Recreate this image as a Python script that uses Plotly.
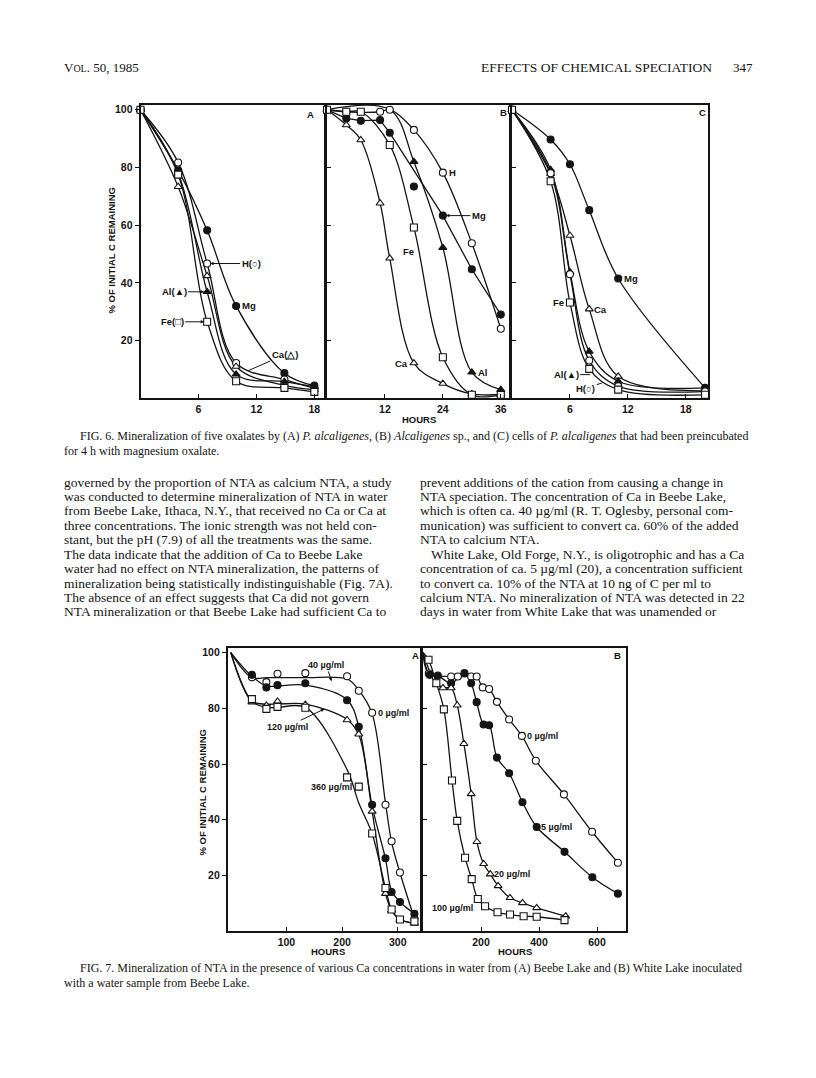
import plotly.graph_objects as go

W, H = 816, 1078          # browser page size
M = 8                     # default body margin of the html page
FW, FH = W - 2 * M, H - 2 * M

# ---------------- FIG. 6 data (hours, % of initial C remaining) ----------------
f6a_t = [0, 3.9, 6.9, 9.9, 14.9, 18]
f6a_H = [100, 81.7, 46.7, 12.2, 6.5, 3.5]
f6a_Mg = [100, 79.0, 58.2, 32.0, 8.7, 4.4]
f6a_Ca = [100, 73.3, 42.4, 11.0, 4.5, 3.0]
f6a_Al = [100, 78.0, 36.9, 8.3, 5.8, 4.0]
f6a_Fe = [100, 77.5, 26.5, 5.9, 3.6, 2.2]

f6b_H_t = [0, 4, 11, 13, 18, 24, 30, 36]
f6b_H = [100, 99.3, 99.3, 100, 93.0, 78.2, 53.7, 24.1]
f6b_Mg_t = [0, 4, 7, 11, 13, 18, 24, 30, 36]
f6b_Mg = [100, 97.0, 96.2, 96.4, 92.0, 73.4, 63.3, 44.7, 29.0]
f6b_Mgfit_t = [0, 4, 7, 11, 13, 24, 30, 36]
f6b_Mgfit = [100, 97.0, 96.2, 96.4, 92.0, 63.3, 44.7, 29.0]
f6b_Ca_t = [0, 4, 7, 11, 13, 18, 24, 30, 36]
f6b_Ca = [100, 94.7, 89.5, 67.6, 48.5, 12.2, 5.1, 1.5, 1.3]
f6b_Fe_t = [0, 4, 7, 13, 18, 24, 30, 36]
f6b_Fe = [100, 99.3, 99.3, 87.8, 59.2, 14.2, 1.2, 1.2]
f6b_Al_t = [0, 13, 18, 24, 30, 36]
f6b_Al = [100, 100, 82.0, 52.2, 9.0, 3.0]
f6b_Al_top_t = [4, 13]          # Al points plotted above the frame (100 %)
f6b_Al_top = [104.2, 104.2]

f6c_t = [0, 4, 6, 8, 11, 20]
f6c_Mg = [100, 89.7, 81.1, 65.2, 41.5, 3.6]
f6c_Ca = [100, 77.8, 56.4, 30.9, 7.6, 2.6]
f6c_Al = [100, 79.2, 43.8, 16.2, 5.9, 3.6]
f6c_H = [100, 78.0, 43.0, 13.1, 4.2, 2.4]
f6c_Fe = [100, 75.2, 33.2, 10.2, 3.0, 1.2]

# ---------------- FIG. 7 data ----------------
f7a_t = [0, 38, 64, 84, 134, 209, 230, 254, 278, 289, 304, 330]
f7a_0 = [100, 91.1, 89.4, 92.4, 92.6, 91.5, 86.3, 78.4, 45.4, 32.3, 21.1, 4.5]
f7a_40 = [100, 92.0, 87.5, 88.3, 89.0, 82.9, 73.4, 45.4, 26.2, 14.1, 10.5, 6.3]
f7a_120 = [100, 82.2, 81.0, 82.5, 81.3, 75.8, 70.7, 43.0, 13.5, 7.5, 4.2, 2.8]
f7a_360 = [100, 83.3, 79.8, 80.5, 80.2, 55.2, 51.9, 35.1, 15.5, 7.8, 4.2, 3.5]
# drawn (fitted) curves, read at the same times
f7a_0_fit = [100, 91.0, 91.0, 91.0, 91.0, 90.5, 86.5, 78.0, 46.0, 32.0, 21.0, 4.5]
f7a_40_fit = [100, 91.5, 88.0, 88.0, 88.3, 83.0, 73.5, 45.0, 26.0, 14.5, 10.5, 6.3]
f7a_120_fit = [100, 82.5, 81.5, 81.5, 81.5, 76.0, 70.5, 43.0, 13.5, 7.5, 4.2, 2.8]
f7a_360_fit = [100, 82.5, 80.3, 80.3, 80.3, 58.0, 46.0, 35.0, 15.5, 7.8, 4.2, 3.0]

f7b_0_t = [0, 20, 97, 120, 166, 185, 206, 228, 255, 297, 341, 389, 486, 583, 672]
f7b_0 = [100, 92.5, 91.4, 91.4, 91.4, 91.4, 87.5, 86.9, 82.3, 76.0, 70.1, 61.2, 49.1, 35.7, 24.6]
f7b_5_t = [0, 23, 51, 97, 143, 166, 185, 209, 228, 255, 297, 343, 392, 488, 584, 672]
f7b_5 = [100, 92.0, 91.7, 89.0, 92.6, 89.0, 82.2, 74.2, 73.9, 62.3, 56.7, 46.3, 37.4, 28.5, 19.4, 13.5]
f7b_20_t = [0, 46, 69, 97, 118, 141, 166, 186, 209, 232, 259, 300, 343, 392, 492]
f7b_20 = [100, 88.5, 87.3, 87.3, 81.1, 67.3, 49.3, 32.1, 24.2, 20.5, 16.3, 12.0, 10.2, 8.4, 5.4]
f7b_100_t = [0, 19, 46, 72, 100, 118, 145, 168, 189, 214, 257, 300, 347, 392, 488]
f7b_100 = [100, 97.4, 89.0, 79.6, 54.1, 39.6, 26.4, 18.7, 11.6, 9.0, 6.8, 6.0, 5.4, 5.2, 4.0]

# ---------------- page texts ----------------
left_col = [
    "governed by the proportion of NTA as calcium NTA, a study",
    "was conducted to determine mineralization of NTA in water",
    "from Beebe Lake, Ithaca, N.Y., that received no Ca or Ca at",
    "three concentrations. The ionic strength was not held con-",
    "stant, but the pH (7.9) of all the treatments was the same.",
    "The data indicate that the addition of Ca to Beebe Lake",
    "water had no effect on NTA mineralization, the patterns of",
    "mineralization being statistically indistinguishable (Fig. 7A).",
    "The absence of an effect suggests that Ca did not govern",
    "NTA mineralization or that Beebe Lake had sufficient Ca to",
]
right_col = [
    "prevent additions of the cation from causing a change in",
    "NTA speciation. The concentration of Ca in Beebe Lake,",
    "which is often ca. 40 µg/ml (R. T. Oglesby, personal com-",
    "munication) was sufficient to convert ca. 60% of the added",
    "NTA to calcium NTA.",
    "White Lake, Old Forge, N.Y., is oligotrophic and has a Ca",
    "concentration of ca. 5 µg/ml (20), a concentration sufficient",
    "to convert ca. 10% of the NTA at 10 ng of C per ml to",
    "calcium NTA. No mineralization of NTA was detected in 22",
    "days in water from White Lake that was unamended or",
]
cap6 = ["FIG. 6. Mineralization of five oxalates by (A) <i>P. alcaligenes</i>, (B) <i>Alcaligenes</i> sp., and (C) cells of <i>P. alcaligenes</i> that had been preincubated",
        "for 4 h with magnesium oxalate."]
cap7 = ["FIG. 7. Mineralization of NTA in the presence of various Ca concentrations in water from (A) Beebe Lake and (B) White Lake inoculated",
        "with a water sample from Beebe Lake."]

# ---------------- figure ----------------
fig = go.Figure()
INK = '#141414'
SANS = 'Liberation Sans'
SERIF = 'Liberation Serif'

def PX(x):  # page x pixel -> paper
    return (x - M) / FW

def PY(y):  # page y pixel -> paper
    return 1 - (y - M) / FH

def ax_id(i):
    return ('x' if i == 1 else 'x%d' % i), ('y' if i == 1 else 'y%d' % i)

line_traces, marker_traces = [], []

def series(i, t, v, sym, fill, lt=None, lv=None, shape='spline', first=0):
    xa, ya = ax_id(i)
    lt = t if lt is None else lt
    lv = v if lv is None else lv
    line_traces.append(go.Scatter(x=lt, y=lv, xaxis=xa, yaxis=ya, mode='lines',
                                  line=dict(color=INK, width=1.3, shape=shape, smoothing=1.0),
                                  showlegend=False, hoverinfo='skip'))
    marker_traces.append(go.Scatter(x=t[first:], y=v[first:], xaxis=xa, yaxis=ya, mode='markers',
                                    marker=dict(symbol=sym, size=7, color=fill,
                                                line=dict(color=INK, width=1.1)),
                                    cliponaxis=False, showlegend=False, hoverinfo='skip'))

OPEN, FULL = 'white', INK
# Fig 6A
series(1, f6a_t, f6a_Mg, 'circle', FULL)
series(1, f6a_t, f6a_H, 'circle', OPEN)
series(1, f6a_t, f6a_Ca, 'triangle-up', OPEN)
series(1, f6a_t, f6a_Al, 'triangle-up', FULL)
series(1, f6a_t, f6a_Fe, 'square', OPEN)
# Fig 6B
series(2, f6b_H_t, f6b_H, 'circle', OPEN)
series(2, f6b_Mg_t, f6b_Mg, 'circle', FULL, lt=f6b_Mgfit_t, lv=f6b_Mgfit, shape='linear')
series(2, f6b_Ca_t, f6b_Ca, 'triangle-up', OPEN)
series(2, f6b_Fe_t, f6b_Fe, 'square', OPEN)
series(2, f6b_Al_t, f6b_Al, 'triangle-up', FULL, first=2)
marker_traces.append(go.Scatter(x=f6b_Al_top_t, y=f6b_Al_top, xaxis='x2', yaxis='y2', mode='markers',
                                marker=dict(symbol='triangle-up', size=7, color=INK),
                                cliponaxis=False, showlegend=False, hoverinfo='skip'))
# Fig 6C
series(3, f6c_t, f6c_Mg, 'circle', FULL)
series(3, f6c_t, f6c_Ca, 'triangle-up', OPEN)
series(3, f6c_t, f6c_Al, 'triangle-up', FULL)
series(3, f6c_t, f6c_H, 'circle', OPEN)
series(3, f6c_t, f6c_Fe, 'square', OPEN)
# Fig 7A
series(4, f7a_t, f7a_0, 'circle', OPEN, lv=f7a_0_fit, first=1)
series(4, f7a_t, f7a_40, 'circle', FULL, lv=f7a_40_fit, first=1)
series(4, f7a_t, f7a_120, 'triangle-up', OPEN, lv=f7a_120_fit, first=1)
series(4, f7a_t, f7a_360, 'square', OPEN, lv=f7a_360_fit, first=1)
# Fig 7B
series(5, f7b_0_t, f7b_0, 'circle', OPEN, first=1)
series(5, f7b_5_t, f7b_5, 'circle', FULL, first=1)
series(5, f7b_20_t, f7b_20, 'triangle-up', OPEN, first=1)
series(5, f7b_100_t, f7b_100, 'square', OPEN, first=1)

for tr in line_traces + marker_traces:
    fig.add_trace(tr)

tickfont = dict(family=SANS, size=10.5, color=INK, weight='bold')

def set_axes(i, xpx, ypx, xr, yr, xt, yt, ylab):
    xa = dict(domain=[PX(xpx[0]), PX(xpx[1])], range=xr, tickvals=xt, ticks='inside', ticklen=4,
              tickwidth=1.3, tickcolor=INK, showline=True, linewidth=1.7, linecolor=INK, mirror=True,
              showgrid=False, zeroline=False, tickfont=tickfont, anchor=ax_id(i)[1], fixedrange=True)
    ya = dict(domain=[PY(ypx[1]), PY(ypx[0])], range=yr, tickvals=yt,
              ticks='outside' if ylab else 'inside', ticklen=4, tickwidth=1.3, tickcolor=INK,
              showline=True, linewidth=1.7, linecolor=INK, mirror=True, showgrid=False,
              zeroline=False, tickfont=tickfont, anchor=ax_id(i)[0], fixedrange=True,
              showticklabels=ylab)
    fig.layout['xaxis' if i == 1 else 'xaxis%d' % i] = xa
    fig.layout['yaxis' if i == 1 else 'yaxis%d' % i] = ya

Y6 = (103, 397)
set_axes(1, (140.5, 324), Y6, [0, 19.0], [0, 101.7], [6, 12, 18], [20, 40, 60, 80, 100], True)
set_axes(2, (327, 509), Y6, [0, 37.7], [0, 101.7], [12, 24, 36], [20, 40, 60, 80], False)
set_axes(3, (512, 708), Y6, [0, 20.3], [0, 101.7], [6, 12, 18], [20, 40, 60, 80], False)
Y7 = (647, 931)
set_axes(4, (227.7, 420), Y7, [-5.5, 340], [0, 101.7], [100, 200, 300], [20, 40, 60, 80, 100], True)
set_axes(5, (423, 626), Y7, [0, 700], [0, 101.7], [200, 400, 600], [20, 40, 60, 80], False)

ann = []

def ptxt(s, x, y, size, anchor='left', family=SERIF, weight='normal', angle=0):
    ann.append(dict(text=s, x=PX(x), y=PY(y), xref='paper', yref='paper', xanchor=anchor,
                    yanchor='middle', showarrow=False, textangle=angle,
                    font=dict(family=family, size=size, color=INK, weight=weight)))

def dtxt(i, s, x, y, anchor='left', xshift=0, yshift=0, size=9.5, ax=None, ay=None, head=2):
    xa, ya = ax_id(i)
    d = dict(text=s, x=x, y=y, xref=xa, yref=ya, showarrow=ax is not None,
             font=dict(family=SANS, size=size, color=INK, weight='bold'))
    if ax is None:
        d.update(xanchor=anchor, yanchor='middle', xshift=xshift, yshift=yshift)
    else:
        d.update(ax=ax, ay=ay, arrowhead=head, arrowsize=0.7, arrowwidth=1.0, arrowcolor=INK,
                 standoff=3, startstandoff=0)
    ann.append(d)

# header
ptxt("V<span style='font-size:10px'>OL</span>. 50, 1985", 62, 66, 13)
ptxt("EFFECTS OF CHEMICAL SPECIATION", 714, 66, 13.5, anchor='right')
ptxt("347", 755, 66, 13, anchor='right')

# fig 6 axis titles and panel letters
ptxt("% OF INITIAL C REMAINING", 112, 249, 9.5, anchor='center', family=SANS, weight='bold', angle=-90)
ptxt("HOURS", 419, 418, 9.5, anchor='center', family=SANS, weight='bold')
ptxt("A", 310, 113, 9.5, anchor='center', family=SANS, weight='bold')
ptxt("B", 503, 111, 9.5, anchor='center', family=SANS, weight='bold')
ptxt("C", 702, 111, 9.5, anchor='center', family=SANS, weight='bold')

# fig 6A labels
dtxt(1, "H(○)", 6.9, 46.7, ax=44, ay=0)
dtxt(1, "Al(▲)", 6.9, 36.9, ax=-33, ay=0)
dtxt(1, "Fe(□)", 6.9, 26.5, ax=-35, ay=0)
dtxt(1, "Mg", 9.9, 32.0, xshift=4)
dtxt(1, "Ca(△)", 10.9, 9.2, ax=39, ay=-17, head=0)
# fig 6B labels
dtxt(2, "H", 24, 78.2, xshift=4)
dtxt(2, "Mg", 24, 63.3, ax=36, ay=0)
dtxt(2, "Fe", 16.9, 51.0, anchor='center')
dtxt(2, "Ca", 18, 12.2, anchor='right', xshift=-4)
dtxt(2, "Al", 30, 9.0, xshift=4)
# fig 6C labels
dtxt(3, "Mg", 11, 41.5, xshift=4)
dtxt(3, "Fe", 6, 33.2, anchor='right', xshift=-4)
dtxt(3, "Ca", 8, 30.9, xshift=3)
dtxt(3, "Al(▲)", 8.4, 8.2, ax=-27, ay=0, head=0)
dtxt(3, "H(○)", 9.6, 5.6, ax=-19, ay=6, head=0)

# fig 7 axis titles
ptxt("% OF INITIAL C REMAINING", 203, 792, 9.5, anchor='center', family=SANS, weight='bold', angle=-90)
ptxt("HOURS", 328, 951, 9.5, anchor='center', family=SANS, weight='bold')
ptxt("HOURS", 515, 951, 9.5, anchor='center', family=SANS, weight='bold')
ptxt("A", 415, 655, 9.5, anchor='center', family=SANS, weight='bold')
ptxt("B", 617, 655, 9.5, anchor='center', family=SANS, weight='bold')
# fig 7A labels
dtxt(4, "40 µg/ml", 182.6, 88.7, ax=-6, ay=-19, size=9)
dtxt(4, "0 µg/ml", 254, 78.4, xshift=4, size=9)
dtxt(4, "120 µg/ml", 173, 80.2, ax=-40, ay=19, size=9)
dtxt(4, "360 µg/ml", 230, 51.9, anchor='right', xshift=-5, size=9)
# fig 7B labels
dtxt(5, "0 µg/ml", 341, 70.1, xshift=3, size=9)
dtxt(5, "5 µg/ml", 392, 37.4, xshift=2, size=9)
dtxt(5, "20 µg/ml", 232, 20.5, xshift=2, size=9)
ptxt("100 µg/ml", 452, 908, 9, anchor='center', family=SANS, weight='bold')

# captions and body text
ptxt(cap6[0], 78, 435, 12)
ptxt(cap6[1], 62, 450, 12)
for k, s in enumerate(left_col):
    ptxt(s, 62, 481 + k * 14.45, 13.5)
for k, s in enumerate(right_col):
    ptxt(s, 429 if k == 5 else 418, 481 + k * 14.45, 13.5)
ptxt(cap7[0], 78, 968, 12)
ptxt(cap7[1], 62, 983, 12)

fig.update_layout(width=FW, height=FH, margin=dict(l=0, r=0, t=0, b=0), paper_bgcolor='white',
                  plot_bgcolor='white', annotations=ann, showlegend=False)

fig.write_html("out.html")
